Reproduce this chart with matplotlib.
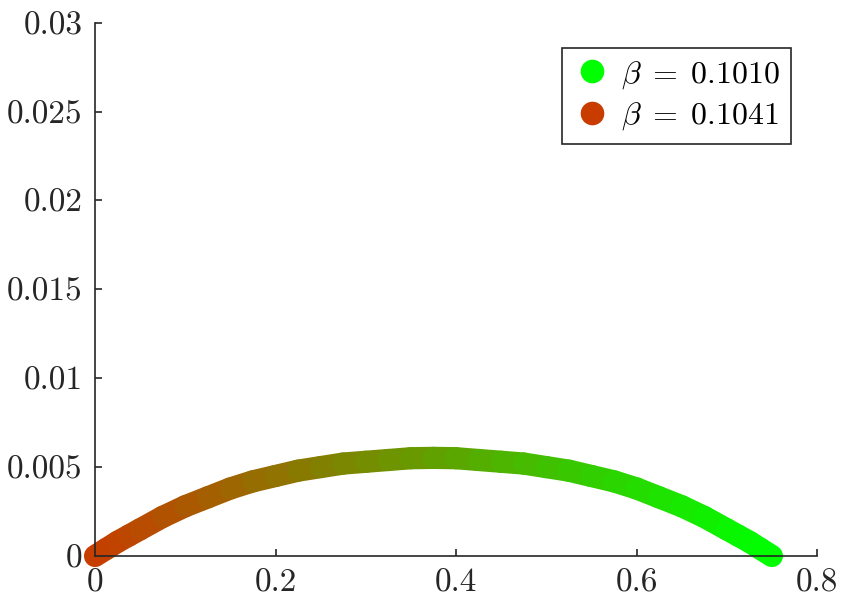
import matplotlib
matplotlib.use('Agg')
import matplotlib.pyplot as plt
import numpy as np
from matplotlib.colors import LinearSegmentedColormap
from matplotlib.lines import Line2D

# LaTeX-like look (Computer Modern)
plt.rcParams['font.family'] = 'serif'
plt.rcParams['font.serif'] = ['cmr10', 'DejaVu Serif']
plt.rcParams['mathtext.fontset'] = 'cm'
plt.rcParams['axes.unicode_minus'] = False

# curve
x_vals = [0.0, 0.0125, 0.025, 0.0375, 0.05, 0.075, 0.10, 0.125, 0.15, 0.175,
          0.20, 0.225, 0.25, 0.275, 0.30, 0.325, 0.35, 0.375, 0.40, 0.425,
          0.45, 0.475, 0.50, 0.525, 0.55, 0.575, 0.60, 0.625, 0.65, 0.675,
          0.70, 0.7125, 0.725, 0.7375, 0.75]
y_vals = [0.0, 0.0004, 0.0008, 0.00115, 0.0015, 0.0022, 0.0028, 0.0033,
          0.0038, 0.0042, 0.0045, 0.0048, 0.0050, 0.0052, 0.0053, 0.0054,
          0.0055, 0.00552, 0.0055, 0.0054, 0.0053, 0.0052, 0.0050, 0.0048,
          0.0045, 0.0042, 0.0038, 0.0033, 0.0028, 0.0022, 0.0015, 0.00115,
          0.0008, 0.0004, 0.0]

legend_labels = [r'$\beta \;=\; 0.1010$', r'$\beta \;=\; 0.1041$']
x_ticks = [0, 0.2, 0.4, 0.6, 0.8]
x_ticklabels = ['0', '0.2', '0.4', '0.6', '0.8']
y_ticks = [0, 0.005, 0.01, 0.015, 0.02, 0.025, 0.03]
y_ticklabels = ['0', '0.005', '0.01', '0.015', '0.02', '0.025', '0.03']

red = '#C83C00'
green = '#00FF00'
txt = '#262626'

fig = plt.figure(figsize=(8.47, 6.05), dpi=100)
ax = fig.add_axes([0.1122, 0.081, 0.8524, 0.8815])

# gradient line: red at x=0 to green at the far end
cmap = LinearSegmentedColormap.from_list('rg', [red, green])
x_end = x_vals[-1]
for i in range(len(x_vals) - 1):
    t = (x_vals[i] + x_vals[i + 1]) / 2 / x_end
    ax.plot(x_vals[i:i + 2], y_vals[i:i + 2], color=cmap(t), lw=16,
            solid_capstyle='round', solid_joinstyle='round', clip_on=False)

ax.set_xlim(0, 0.8)
ax.set_ylim(0, 0.03)
ax.set_xticks(x_ticks)
ax.set_xticklabels(x_ticklabels)
ax.set_yticks(y_ticks)
ax.set_yticklabels(y_ticklabels)

for s in ['top', 'right']:
    ax.spines[s].set_visible(False)
for s in ['left', 'bottom']:
    ax.spines[s].set_color(txt)
    ax.spines[s].set_linewidth(1.2)
ax.tick_params(direction='in', length=5, width=1.2, colors=txt,
               labelsize=24, pad=9)

handles = [Line2D([], [], marker='o', linestyle='none', markersize=16,
                  markerfacecolor=green, markeredgecolor=green),
           Line2D([], [], marker='o', linestyle='none', markersize=16,
                  markerfacecolor=red, markeredgecolor=red)]
leg = ax.legend(handles, legend_labels, loc='upper right',
                bbox_to_anchor=(0.964, 0.9525), borderaxespad=0,
                fontsize=23, fancybox=False, framealpha=1,
                edgecolor=txt, handletextpad=0.3, handlelength=1.2,
                borderpad=0.35, labelspacing=0.3)
leg.get_frame().set_linewidth(1.2)

plt.savefig('out.png', dpi=100)
